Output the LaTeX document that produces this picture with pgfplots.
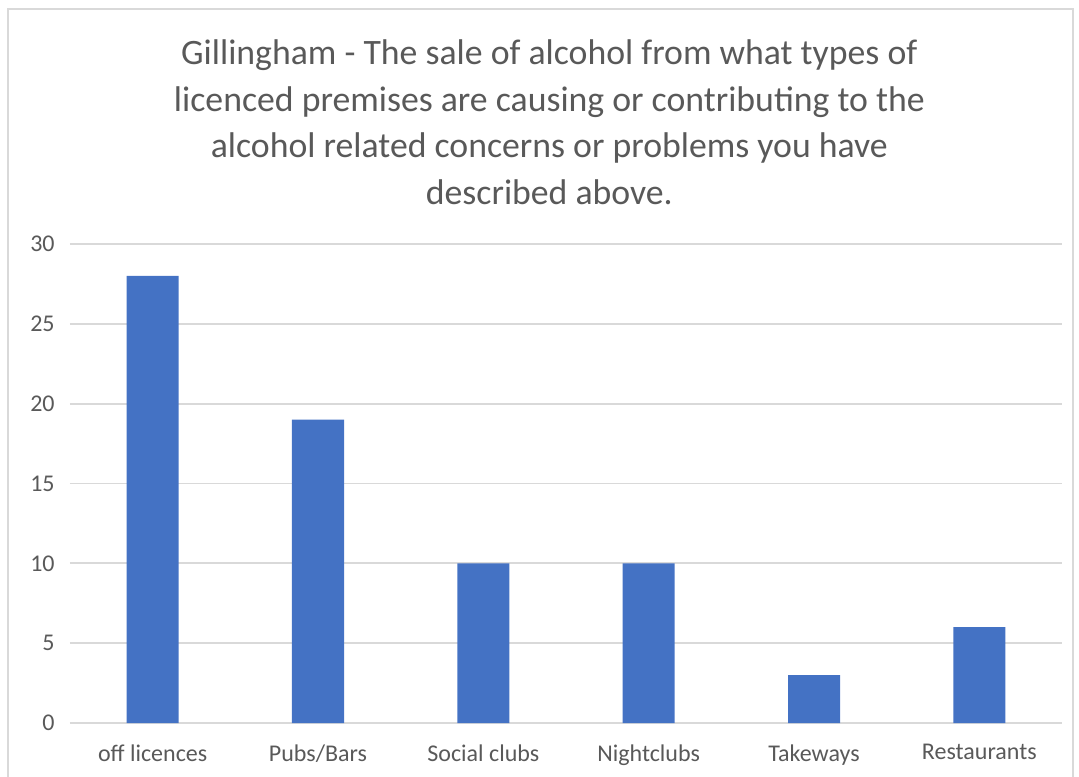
\documentclass[border=0pt]{standalone}
\usepackage{pgfplots}
\pgfplotsset{compat=1.18}
\usepackage{fontspec}
\setmainfont{Carlito}
\definecolor{barblue}{HTML}{4472C4}
\definecolor{txtgray}{HTML}{595959}
\definecolor{gridgray}{HTML}{D9D9D9}
\begin{document}
\begin{tikzpicture}
\path[use as bounding box] (0pt,0pt) rectangle (809.25pt,582pt);
\clip (0pt,0pt) rectangle (809.25pt,582pt);
% chart frame
\draw[gridgray, line width=1.5pt] (6pt,-15pt) rectangle (805pt,575pt);
% title
\node[align=center, text=txtgray, font=\fontsize{26.8}{34.8}\selectfont, anchor=north]
  at (412pt,555.5pt) {Gillingham - The sale of alcohol from what types of\\
  licenced premises are causing or contributing to the\\
  alcohol related concerns or problems you have\\
  described above.};
\begin{axis}[
  at={(52.5pt,39.75pt)}, anchor=south west,
  scale only axis,
  width=744pt, height=359.25pt,
  xmin=-0.5, xmax=5.5,
  ymin=0, ymax=30,
  ytick={0,5,...,30},
  xtick={0,...,5},
  xticklabels={off licences,Pubs/Bars,Social clubs,Nightclubs,Takeways,Restaurants},
  axis line style={draw=none},
  tick style={draw=none},
  ymajorgrids,
  grid style={gridgray, line width=1.4pt},
  ticklabel style={text=txtgray, font=\fontsize{18}{21}\selectfont},
  /pgf/number format/assume math mode=true,
  yticklabel style={xshift=-8pt},
  xticklabel style={yshift=-12.5pt},
  clip=false,
]
\addplot[ybar, bar width=39pt, fill=barblue, draw=none] coordinates {
  (0,28) (1,19) (2,10) (3,10) (4,3) (5,6)
};
\end{axis}
\end{tikzpicture}
\end{document}
